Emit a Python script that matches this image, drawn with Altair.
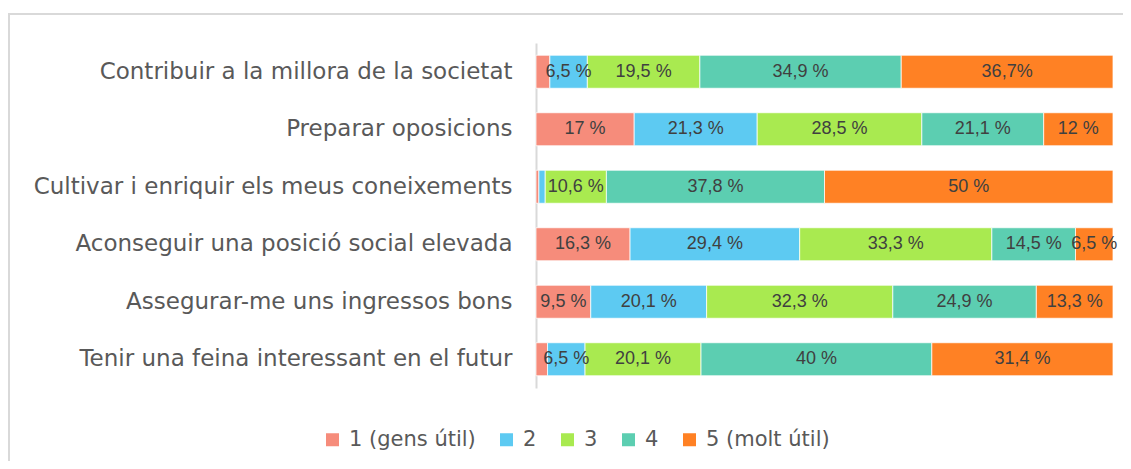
import altair as alt
import pandas as pd

categories = [
    "Contribuir a la millora de la societat",
    "Preparar oposicions",
    "Cultivar i enriquir els meus coneixements",
    "Aconseguir una posició social elevada",
    "Assegurar-me uns ingressos bons",
    "Tenir una feina interessant en el futur",
]
levels = ["1 (gens útil)", "2", "3", "4", "5 (molt útil)"]
colors = ["#F68C7B", "#5DCAF2", "#A9EA50", "#5CCEB1", "#FF8124"]

v1 = [2.4, 17.0, 0.5, 16.3, 9.5, 2.0]
v2 = [6.5, 21.3, 1.1, 29.4, 20.1, 6.5]
v3 = [19.5, 28.5, 10.6, 33.3, 32.3, 20.1]
v4 = [34.9, 21.1, 37.8, 14.5, 24.9, 40.0]
v5 = [36.7, 12.0, 50.0, 6.5, 13.3, 31.4]

l1 = ["", "17 %", "", "16,3 %", "9,5 %", ""]
l2 = ["6,5 %", "21,3 %", "", "29,4 %", "20,1 %", "6,5 %"]
l3 = ["19,5 %", "28,5 %", "10,6 %", "33,3 %", "32,3 %", "20,1 %"]
l4 = ["34,9 %", "21,1 %", "37,8 %", "14,5 %", "24,9 %", "40 %"]
l5 = ["36,7%", "12 %", "50 %", "6,5 %", "13,3 %", "31,4 %"]

rows = []
for li, (vals, labs) in enumerate(zip([v1, v2, v3, v4, v5], [l1, l2, l3, l4, l5])):
    for ci, cat in enumerate(categories):
        rows.append({"cat": cat, "level": levels[li], "ord": li, "value": vals[ci], "label": labs[ci]})
df = pd.DataFrame(rows)

base = alt.Chart(df).transform_stack(
    stack="value",
    as_=["x0", "x1"],
    groupby=["cat"],
    sort=[alt.SortField("ord", order="ascending")],
    offset="normalize",
).transform_calculate(mid="(datum.x0 + datum.x1) / 2")

yenc = alt.Y(
    "cat:N",
    sort=categories,
    title=None,
    scale=alt.Scale(paddingInner=0.426, paddingOuter=0.213),
    axis=alt.Axis(
        ticks=False,
        grid=False,
        domainColor="#d9d9d9",
        domainWidth=2,
        labelFont="DejaVu Sans",
        labelFontSize=23,
        labelColor="#595959",
        labelPadding=24,
        labelLimit=600,
    ),
)

bars = base.mark_bar(stroke="#ffffff", strokeWidth=0.75).encode(
    y=yenc,
    x=alt.X("x0:Q", scale=alt.Scale(domain=[0, 1], nice=False, zero=True), axis=None),
    x2="x1:Q",
    color=alt.Color(
        "level:N",
        scale=alt.Scale(domain=levels, range=colors),
        legend=alt.Legend(
            title=None,
            orient="none",
            direction="horizontal",
            legendX=-214,
            legendY=386,
            symbolType="square",
            symbolSize=169,
            symbolStrokeWidth=0,
            symbolOpacity=1,
            labelFont="DejaVu Sans",
            labelFontSize=21,
            labelColor="#595959",
            labelOffset=6,
            columnPadding=20,
        ),
    ),
)

text = base.mark_text(font="Liberation Sans", fontSize=18, color="#404040").encode(
    y=alt.Y("cat:N", sort=categories),
    x=alt.X("mid:Q"),
    text="label:N",
)

frame = alt.Chart(df).mark_rect(fill=None, stroke="#d9d9d9", strokeWidth=2).encode(
    x=alt.value(-527), x2=alt.value(620), y=alt.value(-29), y2=alt.value(460)
)

chart = alt.layer(frame, bars, text).properties(
    width=577,
    height=345,
    autosize=alt.AutoSizeParams(type="none"),
    padding={"left": 528, "top": 35, "right": 10, "bottom": 73},
).configure_view(stroke=None)

chart.save("out.html", embed_options={"renderer": "svg", "actions": False})
